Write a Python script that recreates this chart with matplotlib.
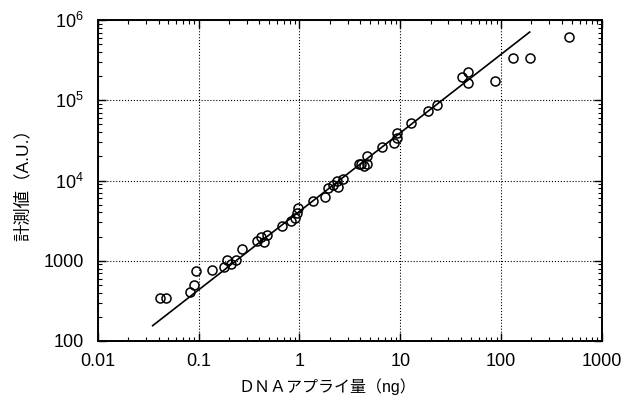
import matplotlib
matplotlib.use('Agg')
import matplotlib.pyplot as plt
from matplotlib.ticker import FixedLocator, LogLocator, NullFormatter
import numpy as np

plt.rcParams['font.family'] = ['Liberation Sans', 'Noto Sans CJK JP', 'DejaVu Sans']
plt.rcParams['mathtext.fontset'] = 'custom'
plt.rcParams['mathtext.rm'] = 'Liberation Sans'

# DNA applied (ng) vs measured value (A.U.)
dna_ng = [0.041, 0.047, 0.083, 0.090, 0.095, 0.136, 0.177, 0.191, 0.211, 0.237,
          0.27, 0.383, 0.416, 0.45, 0.477, 0.673, 0.833, 0.898, 0.95, 0.96,
          1.35, 1.78, 1.94, 2.14, 2.35, 2.4, 2.69, 3.88, 4.1, 4.35,
          4.63, 4.7, 6.62, 8.6, 9.2, 9.3, 12.9, 18.8, 23.3, 40.6,
          46.4, 46.4, 87, 131, 192, 476]
measured = [347, 347, 411, 493, 750, 757, 842, 1020, 910, 1030,
            1410, 1775, 1950, 1690, 2110, 2750, 3090, 3460, 3960, 4610,
            5580, 6310, 8040, 8760, 9900, 8400, 10600, 16000, 16300, 15300,
            20100, 16300, 26500, 29700, 34400, 38900, 51900, 73700, 88300, 194000,
            224000, 165000, 175000, 334000, 337000, 624000]

# fitted line end points
fit_x = [0.035, 192]
fit_y = [155, 711000]

x_ticks = [0.01, 0.1, 1, 10, 100, 1000]
x_ticklabels = ['0.01', '0.1', '1', '10', '100', '1000']
y_ticks = [100, 1000, 1e4, 1e5, 1e6]
y_ticklabels = ['100', '1000', r'$\mathregular{10^4}$', r'$\mathregular{10^5}$', r'$\mathregular{10^6}$']

fig = plt.figure(figsize=(6.35, 4.03), dpi=100)
ax = fig.add_axes([0.154, 0.154, 0.794, 0.796])

ax.plot(fit_x, fit_y, color='black', linewidth=1.2)
ax.plot(dna_ng, measured, linestyle='none', marker='o', markersize=6.5,
        markerfacecolor='none', markeredgecolor='black', markeredgewidth=1.1)

ax.set_xscale('log')
ax.set_yscale('log')
ax.set_xlim(0.01, 1000)
ax.set_ylim(100, 1e6)

ax.xaxis.set_major_locator(FixedLocator(x_ticks))
ax.set_xticklabels(x_ticklabels)
ax.yaxis.set_major_locator(FixedLocator(y_ticks))
ax.set_yticklabels(y_ticklabels)
ax.xaxis.set_minor_locator(LogLocator(base=10, subs=np.arange(2, 10), numticks=20))
ax.yaxis.set_minor_locator(LogLocator(base=10, subs=np.arange(2, 10), numticks=20))
ax.xaxis.set_minor_formatter(NullFormatter())
ax.yaxis.set_minor_formatter(NullFormatter())

ax.tick_params(which='both', direction='in', top=True, right=True, colors='black')
ax.tick_params(which='major', length=6, width=1, labelsize=13)
ax.tick_params(axis='x', which='major', pad=9)
ax.tick_params(axis='y', which='major', pad=10)
ax.tick_params(which='minor', length=3, width=0.8)
for sp in ax.spines.values():
    sp.set_linewidth(1.4)

ax.grid(which='major', color='black', linestyle=':', linewidth=0.8)

ax.set_xlabel('ＤＮＡアプライ量（ng）', fontsize=11.5, labelpad=3)
ax.xaxis.set_label_coords(0.455, -0.115)
ax.set_ylabel('計測値（A.U.）', fontsize=12.5, labelpad=9)

fig.savefig('out.png', dpi=100, facecolor='white')
